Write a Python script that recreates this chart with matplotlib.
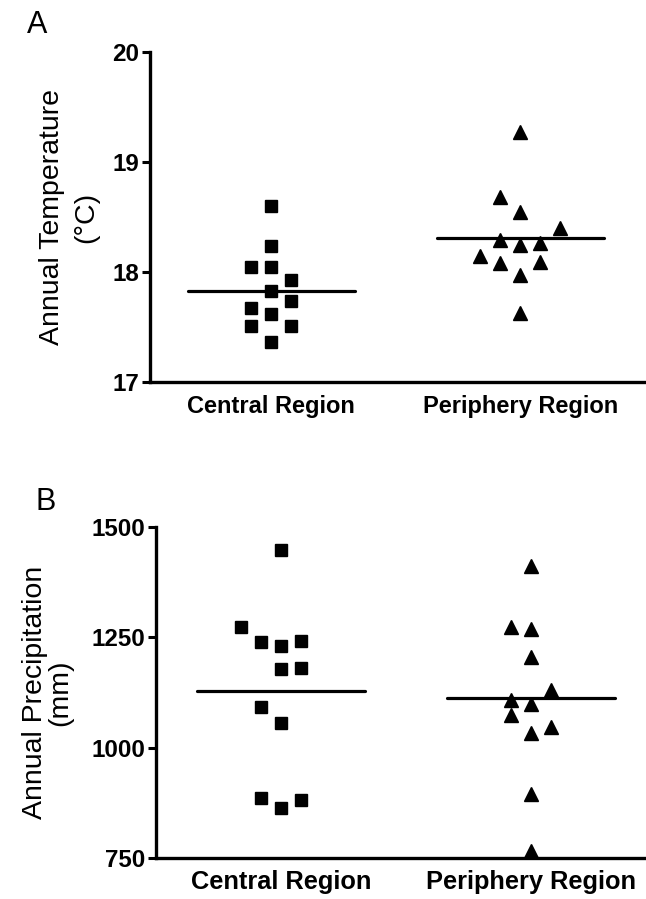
import matplotlib
matplotlib.use("Agg")
import matplotlib.pyplot as plt
import numpy as np

plt.rcParams['font.family'] = ['Liberation Sans', 'DejaVu Sans']

groups = ["Central Region", "Periphery Region"]

# panel A - annual temperature (C)
temp_central = [18.60, 18.24, 18.05, 18.05, 17.93, 17.83, 17.74, 17.67, 17.62, 17.51, 17.51, 17.36]
temp_periph = [19.27, 18.68, 18.55, 18.40, 18.29, 18.25, 18.26, 18.15, 18.08, 18.09, 17.97, 17.63]
temp_means = [17.83, 18.31]

# panel B - annual precipitation (mm)
prec_central = [1448, 1273, 1239, 1230, 1241, 1178, 1180, 1092, 1056, 887, 863, 881]
prec_periph = [1412, 1273, 1270, 1205, 1131, 1108, 1099, 1074, 1047, 1034, 894, 766]
prec_means = [1129, 1113]

# scatter column (jitter slot) for each point
colA_c = [0, 0, -1, 0, 1, 0, 1, -1, 0, -1, 1, 0]
colA_p = [0, -1, 0, 2, -1, 0, 1, -2, -1, 1, 0, 0]
colB_c = [0, -2, -1, 0, 1, 0, 1, -1, 0, -1, 0, 1]
colB_p = [0, -1, 0, 0, 1, -1, 0, -1, 1, 0, 0, 0]

step = 0.08
half = 0.335

fig = plt.figure(figsize=(6.46, 8.99), dpi=100)
axA = fig.add_axes([150/646, 1-382/899, 495/646, 330/899])
axB = fig.add_axes([156/646, 1-858/899, 500/646, 331/899])


def panel(ax, c, p, cc, cp, means, ylim, yticks, ylabel, lsp, lx, xfs):
    ax.plot(1 + np.array(cc)*step, c, "s", color="black", markersize=8.5, clip_on=False, zorder=3)
    ax.plot(2 + np.array(cp)*step, p, "^", color="black", markersize=9.5, clip_on=False, zorder=3)
    for i, m in enumerate(means):
        ax.plot([i+1-half, i+1+half], [m, m], "-", color="black", lw=2.3, solid_capstyle="round")
    ax.set_ylim(ylim)
    ax.set_yticks(yticks)
    ax.set_xticks([1, 2])
    ax.set_xticklabels(groups, fontsize=xfs, fontweight="bold")
    for t in ax.get_yticklabels():
        t.set_fontweight("bold")
        t.set_fontsize(17.4)
    ax.tick_params(axis="y", direction="out", length=6, width=2.2, pad=2)
    ax.tick_params(axis="x", length=0, pad=9)
    ax.spines["top"].set_visible(False)
    ax.spines["right"].set_visible(False)
    ax.spines["left"].set_linewidth(2.4)
    ax.spines["bottom"].set_linewidth(2.4)
    ax.set_ylabel(ylabel, fontsize=20.5, linespacing=lsp)
    ax.yaxis.set_label_coords(lx, 0.5)


panel(axA, temp_central, temp_periph, colA_c, colA_p, temp_means, (17, 20), [17, 18, 19, 20],
      "Annual Temperature\n(°C)", 1.38, -0.103, 17)
axA.set_xlim(0.514, 2.5)
panel(axB, prec_central, prec_periph, colB_c, colB_p, prec_means, (750, 1500), [750, 1000, 1250, 1500],
      "Annual Precipitation\n(mm)", 0.97, -0.166, 18.3)
axB.set_xlim(0.5, 2.5)

fig.text(27/646, 1-33/899, "A", fontsize=22)
fig.text(36/646, 1-510/899, "B", fontsize=22)

fig.savefig("out.png", dpi=100)
